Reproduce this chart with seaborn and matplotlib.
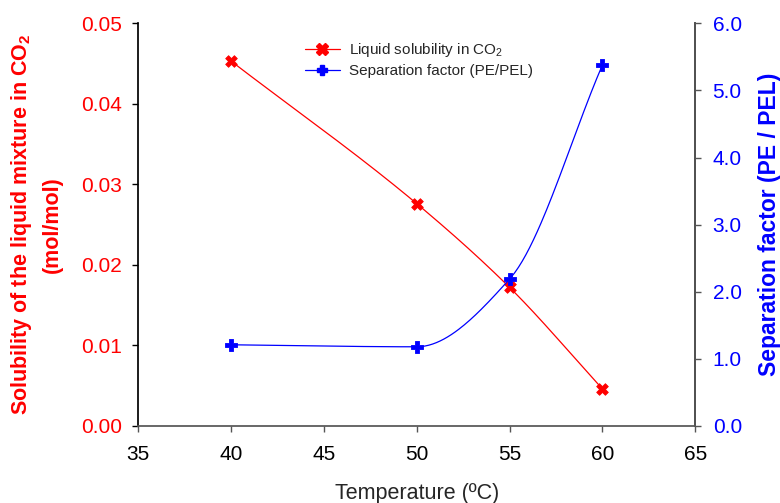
import numpy as np
import pandas as pd
import seaborn as sns
import matplotlib.pyplot as plt
from matplotlib.lines import Line2D

# data
temperature = [40, 50, 55, 60]
solubility = [0.0453, 0.0276, 0.0172, 0.0046]
separation = [1.21, 1.18, 2.19, 5.38]


def smooth_curve(x, y, n=200):
    # monotone cubic Hermite curve through the points (PCHIP-style slopes)
    x = np.asarray(x, float)
    y = np.asarray(y, float)
    k = len(x)
    h = np.diff(x)
    d = np.diff(y) / h
    m = np.empty(k)
    m[0], m[-1] = d[0], d[-1]
    for i in range(1, k - 1):
        if d[i - 1] * d[i] <= 0:
            m[i] = 0.0
        else:
            w1 = 2 * h[i] + h[i - 1]
            w2 = h[i] + 2 * h[i - 1]
            m[i] = (w1 + w2) / (w1 / d[i - 1] + w2 / d[i])
    xs = np.linspace(x[0], x[-1], n)
    idx = np.clip(np.searchsorted(x, xs) - 1, 0, k - 2)
    hh = x[idx + 1] - x[idx]
    t = (xs - x[idx]) / hh
    h00 = 2 * t ** 3 - 3 * t ** 2 + 1
    h10 = t ** 3 - 2 * t ** 2 + t
    h01 = -2 * t ** 3 + 3 * t ** 2
    h11 = t ** 3 - t ** 2
    ys = h00 * y[idx] + h10 * hh * m[idx] + h01 * y[idx + 1] + h11 * hh * m[idx + 1]
    return xs, ys


sns.set_theme(style="ticks")
plt.rcParams['font.family'] = ['Liberation Sans', 'DejaVu Sans']
plt.rcParams['mathtext.fontset'] = 'custom'
plt.rcParams['mathtext.rm'] = 'Liberation Sans'
plt.rcParams['mathtext.bf'] = 'Liberation Sans:bold'

fig = plt.figure(figsize=(7.8, 5.03), dpi=100)
ax = fig.add_axes([0.1773, 0.1531, 0.7141, 0.8006])
ax2 = ax.twinx()

pts = pd.DataFrame({'T': temperature, 'sol': solubility, 'sep': separation})
xs, ys = smooth_curve(temperature, solubility)
xs2, ys2 = smooth_curve(temperature, separation)
curve = pd.DataFrame({'T': xs, 'sol': ys, 'sep': ys2})

sns.lineplot(data=curve, x='T', y='sol', ax=ax, color='red', linewidth=0.9, sort=False)
sns.scatterplot(data=pts, x='T', y='sol', ax=ax, color='red', marker='X', s=70,
                edgecolor='red', linewidth=0.6, zorder=5)
sns.lineplot(data=curve, x='T', y='sep', ax=ax2, color='blue', linewidth=0.9, sort=False)
sns.scatterplot(data=pts, x='T', y='sep', ax=ax2, color='blue', marker='P', s=65,
                edgecolor='blue', linewidth=0.6, zorder=5)

ax.set_xlim(35, 65)
ax.set_ylim(0, 0.05)
ax2.set_ylim(0, 6)
ax.set_xticks([35, 40, 45, 50, 55, 60, 65])
ax.set_yticks([0, 0.01, 0.02, 0.03, 0.04, 0.05])
ax.set_yticklabels([f"{v:.2f}" for v in [0, 0.01, 0.02, 0.03, 0.04, 0.05]])
ax2.set_yticks([0, 1, 2, 3, 4, 5, 6])
ax2.set_yticklabels([f"{v:.1f}" for v in range(7)])

ax.tick_params(axis='x', labelsize=15, labelcolor='black', color='#555555',
               length=4.5, width=1, pad=9)
ax.tick_params(axis='y', labelsize=15, labelcolor='red', color='black',
               length=4.5, width=1, pad=7.5)
ax2.tick_params(axis='y', labelsize=15, labelcolor='blue', color='#555555',
                length=4.5, width=1, pad=8)

for a in (ax, ax2):
    a.spines['top'].set_visible(False)
ax.spines['left'].set_color('black')
ax.spines['bottom'].set_color('#555555')
ax2.spines['right'].set_color('#555555')
ax2.spines['left'].set_visible(False)
ax2.spines['bottom'].set_visible(False)

ax.set_xlabel('Temperature (ºC)', fontsize=15.5)
ax.xaxis.set_label_coords(0.5, -0.142)
ax.set_ylabel('Solubility of the liquid mixture in CO$_\\mathbf{2}$\n(mol/mol)',
              fontsize=15.5, color='red', fontweight='bold', linespacing=1.45)
ax.yaxis.set_label_coords(-0.136, 0.5)
ax2.set_ylabel('Separation factor (PE / PEL)', fontsize=16.5, color='blue', fontweight='bold')
ax2.yaxis.set_label_coords(1.112, 0.5)

handles = [
    Line2D([], [], color='red', linewidth=0.9, marker='X', markersize=8, markeredgecolor='red'),
    Line2D([], [], color='blue', linewidth=0.9, marker='P', markersize=7.5, markeredgecolor='blue'),
]
ax.legend(handles, ['Liquid solubility in CO$_2$', 'Separation factor (PE/PEL)'],
          loc='upper left', bbox_to_anchor=(0.299, 0.955), frameon=False, fontsize=11,
          handlelength=2.3, handletextpad=0.6, labelspacing=0.3,
          borderpad=0, borderaxespad=0)

plt.savefig('out.png', dpi=100)
plt.close()
